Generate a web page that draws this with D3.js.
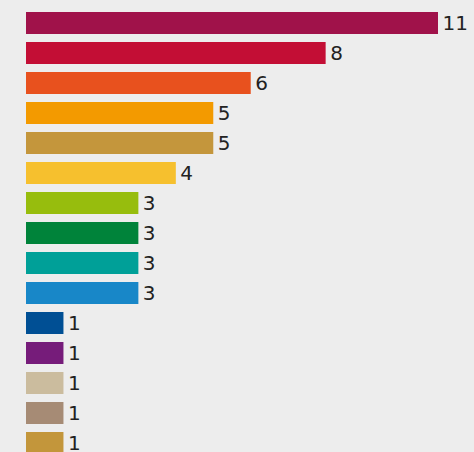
<!DOCTYPE html>
<html>
<head>
<meta charset="utf-8">
<script src="https://cdn.jsdelivr.net/npm/d3@7"></script>
<style>
  body { margin: 0; background: #ededed; }
  svg { display: block; }
</style>
</head>
<body>
<script>
var categories = ["c1", "c2", "c3", "c4", "c5", "c6", "c7", "c8", "c9", "c10", "c11", "c12", "c13", "c14", "c15"];
var values = [11, 8, 6, 5, 5, 4, 3, 3, 3, 3, 1, 1, 1, 1, 1];
var colors = ["#a0124a", "#c30e35", "#e8511e", "#f39a00", "#c4963c", "#f6c02e", "#97bd0d",
              "#00833a", "#00a098", "#1887c8", "#004f94", "#761c7a", "#cbbc9e", "#a68b75", "#c3963b"];

var width = 474, height = 452;

var data = categories.map(function(c, i) { return {cat: c, value: values[i], color: colors[i]}; });

var svg = d3.select("body").append("svg")
  .attr("width", width)
  .attr("height", height);

svg.append("rect").attr("width", width).attr("height", height).attr("fill", "#ededed");

var x = d3.scaleLinear().domain([0, 11]).range([26, 438]);
var y = d3.scaleBand().domain(categories).range([8, 458])
  .paddingInner(8 / 30).paddingOuter(4 / 30);

// bars
svg.selectAll(".bar")
  .data(data)
  .enter().append("rect")
  .attr("class", "bar")
  .attr("x", x(0))
  .attr("y", function(d) { return y(d.cat); })
  .attr("width", function(d) { return x(d.value) - x(0); })
  .attr("height", y.bandwidth())
  .attr("fill", function(d) { return d.color; });

// value labels
svg.selectAll(".lbl")
  .data(data)
  .enter().append("text")
  .attr("class", "lbl")
  .attr("x", function(d) { return x(d.value) + 4.5; })
  .attr("y", function(d) { return y(d.cat) + y.bandwidth() / 2; })
  .attr("dy", "0.34em")
  .attr("font-family", "DejaVu Sans, sans-serif")
  .attr("font-size", "20px")
  .attr("fill", "#222")
  .text(function(d) { return d.value; });
</script>
</body>
</html>
